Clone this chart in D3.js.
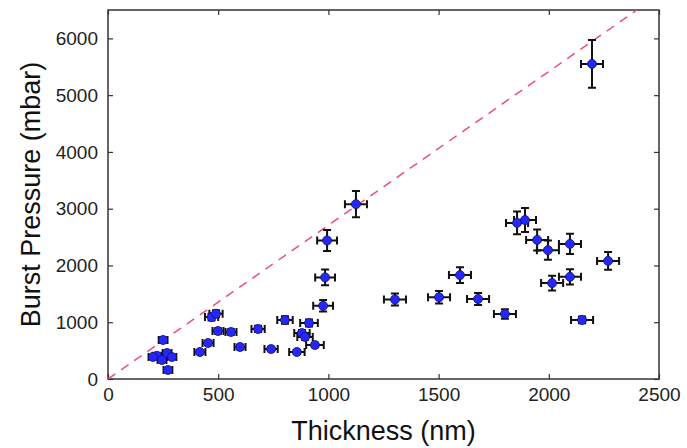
<!DOCTYPE html>
<html>
<head>
<meta charset="utf-8">
<script src="https://cdn.jsdelivr.net/npm/d3@7"></script>
<style>
  body { margin: 0; background: #fff; }
  svg { display: block; font-family: "Liberation Sans", Arial, sans-serif; }
</style>
</head>
<body>
<svg id="chart" width="687" height="448"></svg>
<script>
// thickness (nm), burst pressure (mbar) and their error bars
const thickness = [2196, 1125, 994, 985, 976, 1302, 1502, 1597, 1679, 1801, 2015, 2096, 2151, 2269,
  1856, 1892, 1947, 1996, 2096, 470, 490, 499, 558, 454, 417, 250, 222, 268, 245, 272, 204, 290,
  681, 599, 740, 803, 912, 880, 894, 857, 939];
const pressure = [5550, 3080, 2440, 1790, 1290, 1400, 1440, 1830, 1410, 1145, 1690, 1800, 1040, 2080,
  2750, 2800, 2450, 2270, 2380, 1090, 1150, 846, 828, 634, 476, 687, 410, 458, 335, 159, 388, 388,
  881, 564, 528, 1039, 986, 810, 740, 476, 599];
const thickErr = [50, 50, 45, 45, 45, 50, 50, 50, 50, 50, 50, 50, 50, 50,
  50, 50, 50, 50, 50, 30, 30, 25, 25, 25, 25, 20, 20, 20, 20, 20, 20, 20,
  30, 25, 30, 35, 40, 35, 35, 35, 40];
const pressErr = [420, 230, 185, 140, 100, 105, 110, 140, 105, 85, 130, 135, 60, 155,
  200, 210, 185, 170, 180, 60, 60, 50, 50, 40, 35, 45, 30, 30, 25, 15, 25, 25,
  55, 40, 40, 65, 60, 55, 50, 35, 40];
const xTicks = [0, 500, 1000, 1500, 2000, 2500];
const yTicks = [0, 1000, 2000, 3000, 4000, 5000, 6000];
const fitLine = [[0, 0], [2400, 6500]];

let svg = d3.select("#chart");

let dims = { left: 108, right: 659, top: 10, bottom: 379 };

let xScale = d3.scaleLinear().domain([0, 2500]).range([dims.left, dims.right]);
let yScale = d3.scaleLinear().domain([0, 6500]).range([dims.bottom, dims.top]);

let data = thickness.map((t, i) => ({ t: t, p: pressure[i], te: thickErr[i], pe: pressErr[i] }));

// axes with inward ticks, mirrored on top and right
let axisColor = "#333";
let bottomAxis = svg.append("g")
  .attr("transform", "translate(0," + dims.bottom + ")")
  .call(d3.axisBottom(xScale).tickValues(xTicks).tickSize(-5).tickPadding(9).tickFormat(d3.format("d")));
let leftAxis = svg.append("g")
  .attr("transform", "translate(" + dims.left + ",0)")
  .call(d3.axisLeft(yScale).tickValues(yTicks).tickSize(-5).tickPadding(10).tickFormat(d3.format("d")));
let topAxis = svg.append("g")
  .attr("transform", "translate(0," + dims.top + ")")
  .call(d3.axisTop(xScale).tickValues(xTicks).tickSize(-5).tickFormat(""));
let rightAxis = svg.append("g")
  .attr("transform", "translate(" + dims.right + ",0)")
  .call(d3.axisRight(yScale).tickValues(yTicks).tickSize(-5).tickFormat(""));

[bottomAxis, leftAxis, topAxis, rightAxis].forEach((a) => {
  a.select(".domain").remove();
  a.selectAll("line").attr("stroke", axisColor).attr("stroke-width", 1.2);
  a.selectAll("text").attr("fill", "#222").style("font-size", "19px");
});

svg.append("rect")
  .attr("x", dims.left)
  .attr("y", dims.top)
  .attr("width", dims.right - dims.left)
  .attr("height", dims.bottom - dims.top)
  .attr("fill", "none")
  .attr("stroke", axisColor)
  .attr("stroke-width", 1.5);

// axis titles
svg.append("text")
  .text("Thickness (nm)")
  .attr("x", (dims.left + dims.right) / 2)
  .attr("y", 440)
  .attr("text-anchor", "middle")
  .attr("fill", "#111")
  .style("font-size", "27px");

svg.append("text")
  .text("Burst Pressure (mbar)")
  .attr("transform", "translate(40," + (dims.top + dims.bottom) / 2 + ") rotate(-90)")
  .attr("text-anchor", "middle")
  .attr("fill", "#111")
  .style("font-size", "27px");

// clip for the dashed reference line
svg.append("clipPath").attr("id", "plot-clip")
  .append("rect")
  .attr("x", dims.left).attr("y", dims.top)
  .attr("width", dims.right - dims.left).attr("height", dims.bottom - dims.top);

svg.append("path")
  .datum(fitLine)
  .attr("clip-path", "url(#plot-clip)")
  .attr("d", d3.line().x((d) => xScale(d[0])).y((d) => yScale(d[1])))
  .attr("stroke", "#e8507a")
  .attr("stroke-width", 1.5)
  .attr("stroke-dasharray", "9,7")
  .attr("fill", "none");

// error bars
let cap = 4;
let bars = svg.append("g").attr("stroke", "#111").attr("stroke-width", 2);

bars.selectAll(".vbar")
  .data(data)
  .enter()
  .append("path")
  .attr("d", (d) => {
    let x = xScale(d.t), y1 = yScale(d.p - d.pe), y2 = yScale(d.p + d.pe);
    return "M" + x + "," + y1 + "V" + y2 +
      "M" + (x - cap) + "," + y1 + "H" + (x + cap) +
      "M" + (x - cap) + "," + y2 + "H" + (x + cap);
  })
  .attr("fill", "none");

bars.selectAll(".hbar")
  .data(data)
  .enter()
  .append("path")
  .attr("d", (d) => {
    let y = yScale(d.p), x1 = xScale(d.t - d.te), x2 = xScale(d.t + d.te);
    return "M" + x1 + "," + y + "H" + x2 +
      "M" + x1 + "," + (y - cap) + "V" + (y + cap) +
      "M" + x2 + "," + (y - cap) + "V" + (y + cap);
  })
  .attr("fill", "none");

// markers
svg.append("g")
  .selectAll("circle")
  .data(data)
  .enter()
  .append("circle")
  .attr("cx", (d) => xScale(d.t))
  .attr("cy", (d) => yScale(d.p))
  .attr("r", 4.5)
  .attr("fill", "#2626ff")
  .attr("stroke", "#10106a")
  .attr("stroke-width", 0.8);
</script>
</body>
</html>
